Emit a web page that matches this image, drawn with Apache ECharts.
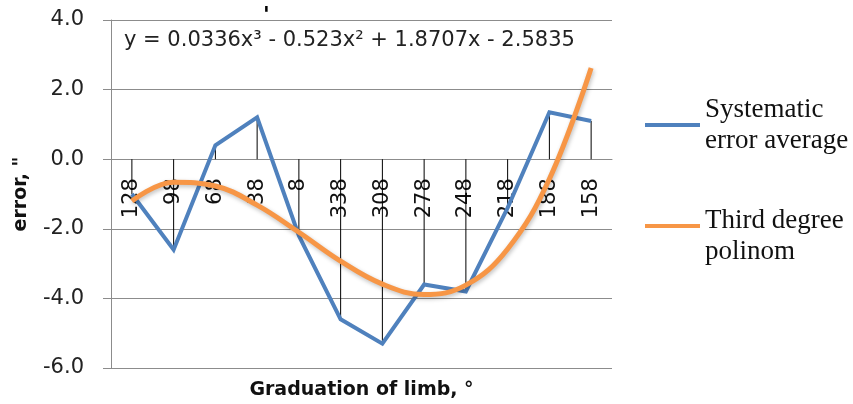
<!DOCTYPE html>
<html>
<head>
<meta charset="utf-8">
<script src="https://cdn.jsdelivr.net/npm/echarts@6/dist/echarts.min.js"></script>
<style>html,body{margin:0;padding:0;background:#fff}#c{width:853px;height:404px}</style>
</head>
<body>
<div id="c"></div>
<script>
const categories = ['128','98','68','38','8','338','308','278','248','218','188','158'];
const systematicError = [-1.0, -2.6, 0.4, 1.2, -2.2, -4.6, -5.3, -3.6, -3.8, -1.4, 1.35, 1.1];
const polynomialFit = [-1.20, -0.66, -0.77, -1.32, -2.10, -2.93, -3.59, -3.89, -3.62, -2.58, -0.57, 2.62];
const yTicks = { min: -6, max: 4, interval: 2 };

const SANS = '"DejaVu Sans", "Liberation Sans", sans-serif';
const SERIF = '"Liberation Serif", "DejaVu Serif", serif';
const GRID_TOP = 20, GRID_BOTTOM = 36, H = 404;
// pixel distance from grid bottom up to the value-0 line
const zeroOffset = (H - GRID_TOP - GRID_BOTTOM) * (0 - yTicks.min) / (yTicks.max - yTicks.min);

const chart = echarts.init(document.getElementById('c'));
chart.setOption({
  animation: false,
  backgroundColor: '#fff',
  grid: { left: 111, right: 241, top: GRID_TOP, bottom: GRID_BOTTOM, containLabel: false, outerBoundsMode: 'none' },
  xAxis: {
    type: 'category',
    data: categories,
    boundaryGap: true,
    offset: -zeroOffset,
    axisLine: { onZero: false, lineStyle: { color: '#8c8c8c', width: 1 } },
    axisTick: { show: false },
    axisLabel: { rotate: 90, interval: 0, margin: 19, color: '#111', fontFamily: SANS, fontSize: 21, hideOverlap: false },
    name: 'Graduation of limb, °',
    nameLocation: 'middle',
    nameGap: 221,
    nameTextStyle: { fontFamily: SANS, fontWeight: 'bold', fontSize: 19, color: '#111' }
  },
  yAxis: {
    type: 'value',
    min: yTicks.min, max: yTicks.max, interval: yTicks.interval,
    axisLine: { show: true, lineStyle: { color: '#8c8c8c' } },
    axisTick: { show: true, length: 8, lineStyle: { color: '#8c8c8c' } },
    splitLine: { show: true, lineStyle: { color: '#8c8c8c', width: 1 } },
    axisLabel: { margin: 27, color: '#222', fontFamily: SANS, fontSize: 21, formatter: v => v.toFixed(1) },
    name: 'error, "',
    nameLocation: 'middle',
    nameGap: 80,
    nameTextStyle: { fontFamily: SANS, fontWeight: 'bold', fontSize: 19, color: '#111' }
  },
  legend: [
    {
      data: ['Systematic\nerror average'],
      left: 645, top: 94, padding: 0, orient: 'vertical',
      icon: 'rect', itemWidth: 55, itemHeight: 4,
      textStyle: { fontFamily: SERIF, fontSize: 27, lineHeight: 31, color: '#111' }
    },
    {
      data: ['Third degree\npolinom'],
      left: 645, top: 205, padding: 0, orient: 'vertical',
      icon: 'path://M0,0 H55 V4 H0 Z M0,24 L0.01,24', itemWidth: 55, itemHeight: 24,
      textStyle: { fontFamily: SERIF, fontSize: 27, lineHeight: 31, color: '#111' }
    }
  ],
  graphic: [
    { type: 'text', left: 124, top: 30, style: { text: 'y = 0.0336x³ - 0.523x² + 1.8707x - 2.5835', fontFamily: SANS, fontSize: 21, fill: '#222' } },
    { type: 'text', left: 263, top: 5, style: { text: '\'', fontFamily: SANS, fontSize: 22, fontWeight: 'bold', fill: '#000' } }
  ],
  series: [
    {
      type: 'custom',
      name: 'drop',
      silent: true,
      z: 1,
      data: systematicError.map((v, i) => [i, v]),
      renderItem: function (params, api) {
        const p0 = api.coord([api.value(0), 0]);
        const p1 = api.coord([api.value(0), api.value(1)]);
        return { type: 'line', shape: { x1: p0[0], y1: p0[1], x2: p1[0], y2: p1[1] }, style: { stroke: '#000', lineWidth: 1 } };
      }
    },
    {
      type: 'line',
      name: 'Systematic\nerror average',
      data: systematicError,
      symbol: 'none',
      z: 3,
      color: '#4f81bd',
      lineStyle: { color: '#4f81bd', width: 4, join: 'miter' }
    },
    {
      type: 'line',
      name: 'Third degree\npolinom',
      data: polynomialFit,
      symbol: 'none',
      smooth: 0.4,
      z: 4,
      color: '#f79646',
      lineStyle: { color: '#f79646', width: 5, shadowColor: 'rgba(0,0,0,0.25)', shadowBlur: 4, shadowOffsetX: 1, shadowOffsetY: 2 }
    }
  ]
});
</script>
</body>
</html>
